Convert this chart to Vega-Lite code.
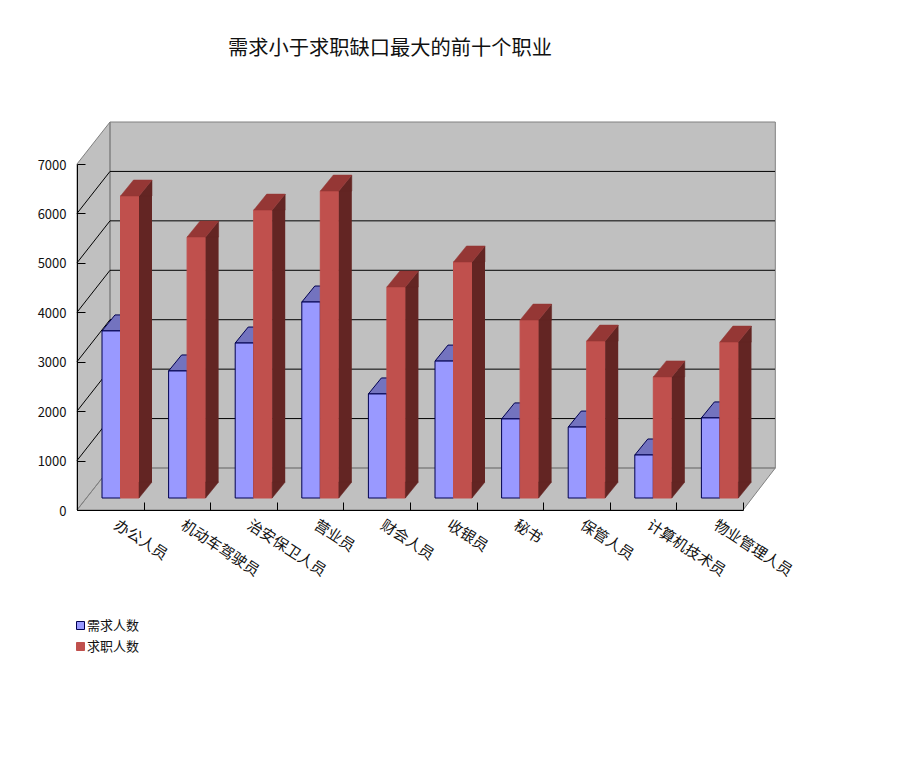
{
  "$schema": "https://vega.github.io/schema/vega-lite/v6.json",
  "width": 666,
  "height": 346,
  "autosize": "none",
  "padding": {"left": 77, "top": 164, "right": 170, "bottom": 251},
  "background": "white",
  "title": {
    "text": "需求小于求职缺口最大的前十个职业",
    "font": "Noto Sans CJK SC",
    "fontSize": 20.25,
    "fontWeight": "normal",
    "color": "#111111",
    "anchor": "start",
    "frame": "group",
    "dx": 151,
    "offset": 61
  },
  "config": {
    "view": {"stroke": null},
    "font": "Noto Sans CJK SC"
  },
  "datasets": {
    "jobs": [
      {"job": "办公人员", "series": "需求人数", "count": 3380},
      {"job": "办公人员", "series": "求职人数", "count": 6110},
      {"job": "机动车驾驶员", "series": "需求人数", "count": 2570},
      {"job": "机动车驾驶员", "series": "求职人数", "count": 5280},
      {"job": "治安保卫人员", "series": "需求人数", "count": 3135},
      {"job": "治安保卫人员", "series": "求职人数", "count": 5825},
      {"job": "营业员", "series": "需求人数", "count": 3965},
      {"job": "营业员", "series": "求职人数", "count": 6210},
      {"job": "财会人员", "series": "需求人数", "count": 2105},
      {"job": "财会人员", "series": "求职人数", "count": 4270},
      {"job": "收银员", "series": "需求人数", "count": 2770},
      {"job": "收银员", "series": "求职人数", "count": 4775},
      {"job": "秘书", "series": "需求人数", "count": 1600},
      {"job": "秘书", "series": "求职人数", "count": 3600},
      {"job": "保管人员", "series": "需求人数", "count": 1435},
      {"job": "保管人员", "series": "求职人数", "count": 3175},
      {"job": "计算机技术员", "series": "需求人数", "count": 870},
      {"job": "计算机技术员", "series": "求职人数", "count": 2450},
      {"job": "物业管理人员", "series": "需求人数", "count": 1620},
      {"job": "物业管理人员", "series": "求职人数", "count": 3155}
    ],
    "grid": [
      {"tick": 1000},
      {"tick": 2000},
      {"tick": 3000},
      {"tick": 4000},
      {"tick": 5000},
      {"tick": 6000}
    ],
    "origin": [{"job": "办公人员", "tick": 0}]
  },
  "encoding": {
    "x": {
      "field": "job",
      "type": "nominal",
      "sort": null,
      "title": null,
      "scale": {
        "domain": ["办公人员", "机动车驾驶员", "治安保卫人员", "营业员", "财会人员", "收银员", "秘书", "保管人员", "计算机技术员", "物业管理人员"],
        "paddingInner": 0,
        "paddingOuter": 0
      },
      "axis": {
        "zindex": 1,
        "domainColor": "black",
        "tickColor": "black",
        "tickBand": "extent",
        "tickSize": -8,
        "labelAngle": 33,
        "labelAlign": "left",
        "labelBaseline": "middle",
        "labelFontSize": 15,
        "labelColor": "#111111",
        "labelPadding": 21,
        "labelOffset": 5,
        "labelOverlap": false,
        "labelLimit": 200
      }
    }
  },
  "layer": [
    {
      "data": {"name": "origin"},
      "mark": {
        "type": "point",
        "filled": true,
        "size": 4,
        "opacity": 1,
        "fill": "#c0c0c0",
        "stroke": "#808080",
        "strokeWidth": 1,
        "shape": "M-33.3,0L-0.3,-42L-0.3,-388L-33.3,-346ZM-0.3,-388L665,-388L665,-42L-0.3,-42ZM-33.3,0L-0.3,-42L665,-42L632.7,0Z"
      },
      "encoding": {
        "y": {
          "field": "tick",
          "type": "quantitative",
          "title": null,
          "scale": {"domain": [0, 7000], "nice": false},
          "axis": {
            "zindex": 1,
            "domainColor": "black",
            "tickColor": "black",
            "tickSize": -8,
            "values": [0, 1000, 2000, 3000, 4000, 5000, 6000, 7000],
            "format": "d",
            "grid": false,
            "labelFontSize": 13,
            "labelColor": "#111111",
            "labelPadding": 19,
            "labelOffset": 1
          }
        }
      }
    },
    {
      "data": {"name": "grid"},
      "mark": {"type": "rule", "color": "black", "strokeWidth": 1, "xOffset": 33, "x2Offset": 32, "yOffset": -42, "y2Offset": -42},
      "encoding": {
        "x": {"value": 0},
        "x2": {"value": 666},
        "y": {"field": "tick", "type": "quantitative"}
      }
    },
    {
      "data": {"name": "grid"},
      "mark": {"type": "point", "size": 4, "opacity": 1, "stroke": "black", "strokeWidth": 1, "fill": null, "shape": "M-33.3,0L-0.3,-42"},
      "encoding": {
        "x": {"datum": "办公人员"},
        "y": {"field": "tick", "type": "quantitative"}
      }
    },
    {
      "data": {"name": "jobs"},
      "transform": [{"filter": "datum.series === '需求人数'"}],
      "mark": {
        "type": "point",
        "filled": true,
        "size": 4,
        "opacity": 1,
        "fill": "#7373bf",
        "stroke": "#000050",
        "strokeWidth": 1,
        "shape": "M-8.3,-12L10.7,-12L23.7,-28L4.7,-28Z"
      },
      "encoding": {
        "y": {"field": "count", "type": "quantitative"}
      }
    },
    {
      "data": {"name": "jobs"},
      "mark": {"type": "bar", "strokeWidth": 1, "yOffset": -12, "y2Offset": -12},
      "encoding": {
        "xOffset": {"field": "series", "type": "nominal", "scale": {"domain": ["需求人数", "求职人数"], "range": [25, 62], "paddingOuter": 0, "paddingInner": 0}},
        "y": {"field": "count", "type": "quantitative"},
        "y2": {"datum": 0},
        "color": {
          "field": "series",
          "type": "nominal",
          "scale": {"domain": ["需求人数", "求职人数"], "range": ["#9999ff", "#c0504d"]},
          "legend": {
            "title": null,
            "orient": "none",
            "legendX": -3,
            "legendY": 455,
            "symbolType": "square",
            "symbolSize": 64,
            "symbolOpacity": 1,
            "labelFontSize": 13,
            "labelColor": "#111111",
            "labelOffset": 0,
            "rowPadding": 7,
            "encode": {"symbols": {"update": {"stroke": {"value": "#30304a"}, "strokeWidth": {"value": 1}}}}
          }
        },
        "stroke": {
          "field": "series",
          "type": "nominal",
          "scale": {"domain": ["需求人数", "求职人数"], "range": ["#000050", "#c0504d"]},
          "legend": null
        }
      }
    },
    {
      "data": {"name": "jobs"},
      "transform": [{"filter": "datum.series === '求职人数'"}],
      "mark": {"type": "rule", "color": "#632523", "strokeWidth": 13, "xOffset": 35.2, "yOffset": -12, "y2Offset": -28},
      "encoding": {
        "y": {"field": "count", "type": "quantitative"},
        "y2": {"datum": 0}
      }
    },
    {
      "data": {"name": "jobs"},
      "transform": [{"filter": "datum.series === '求职人数'"}],
      "mark": {"type": "point", "filled": true, "size": 4, "opacity": 1, "fill": "#632523", "stroke": "#632523", "strokeWidth": 0.5, "shape": "M28.7,-12L41.7,-28L41.7,-12Z"},
      "encoding": {
        "y": {"field": "count", "type": "quantitative"}
      }
    },
    {
      "data": {"name": "jobs"},
      "transform": [{"filter": "datum.series === '求职人数'"}],
      "mark": {"type": "point", "filled": true, "size": 4, "opacity": 1, "fill": "#632523", "stroke": "#632523", "strokeWidth": 0.5, "shape": "M28.7,-12L28.7,-28L41.7,-28Z"},
      "encoding": {
        "y": {"datum": 0}
      }
    },
    {
      "data": {"name": "jobs"},
      "transform": [{"filter": "datum.series === '求职人数'"}],
      "mark": {"type": "point", "filled": true, "size": 4, "opacity": 1, "fill": "#953735", "stroke": "#953735", "strokeWidth": 0.5, "shape": "M10.2,-12L28.7,-12L41.7,-28L23.2,-28Z"},
      "encoding": {
        "y": {"field": "count", "type": "quantitative"}
      }
    }
  ]
}
